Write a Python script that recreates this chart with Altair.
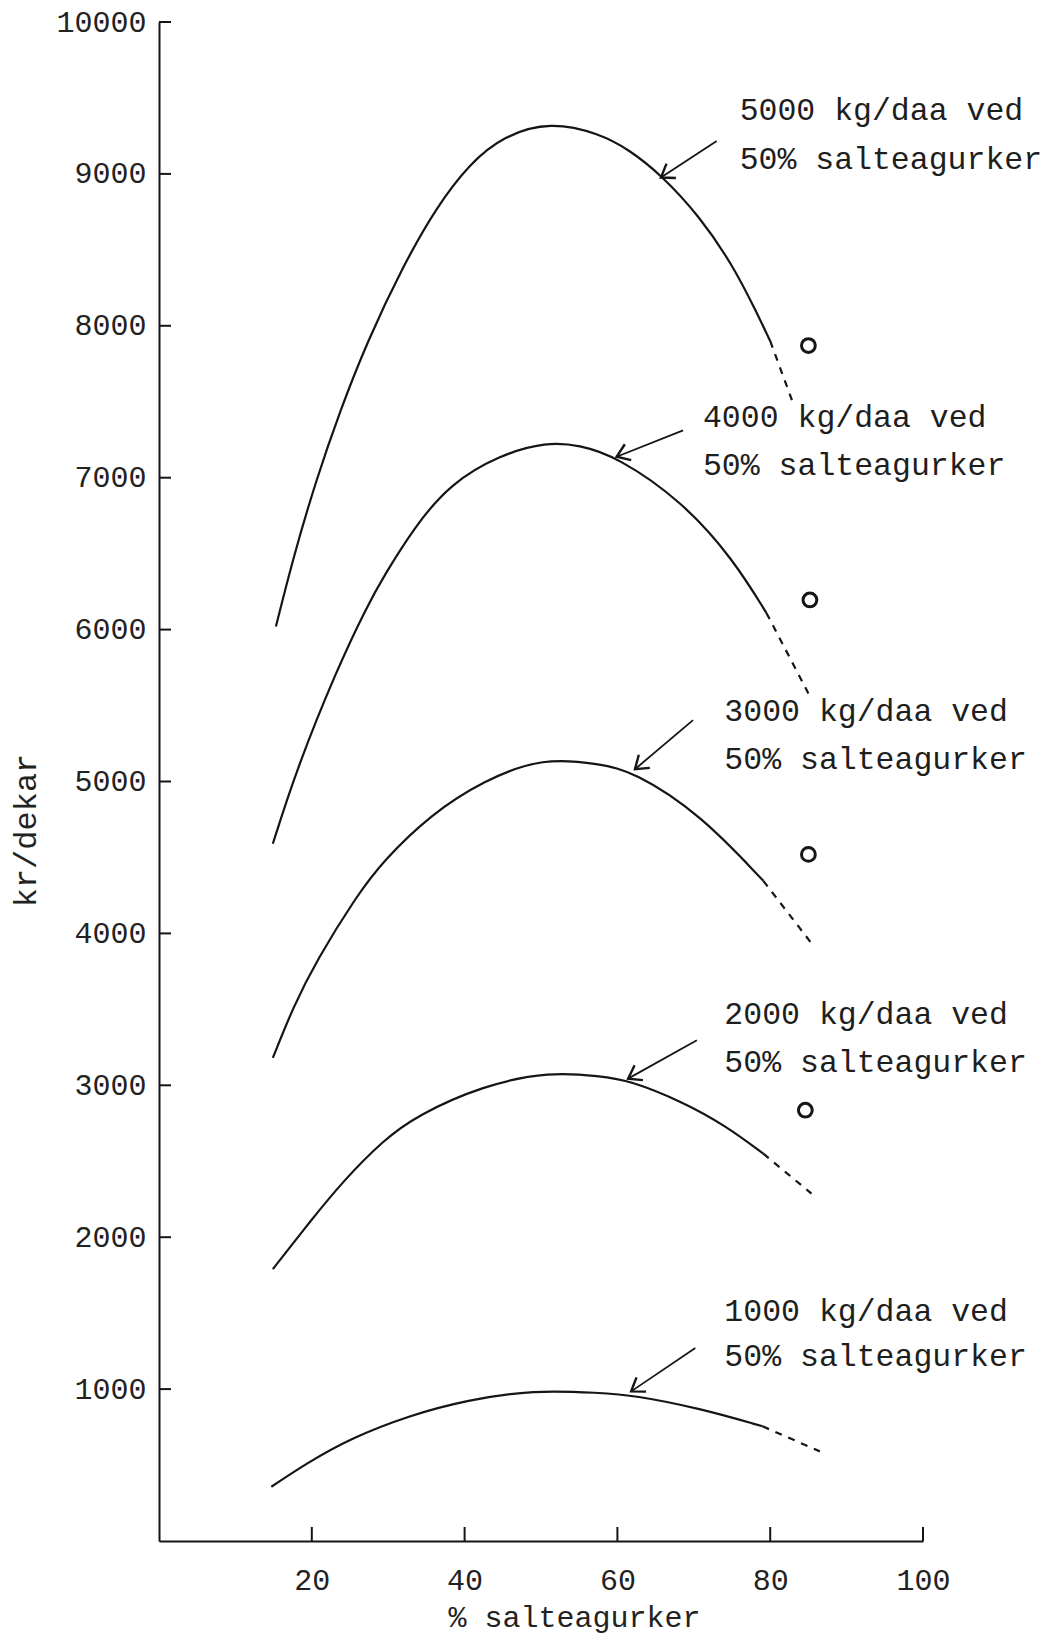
import math
import altair as alt
import pandas as pd

W, H = 764, 1519
XMAX, YMAX = 100, 10000
FONT = "Liberation Mono"
INK = "#151515"

# ---- curves: solid part and dashed extension (x = % salteagurker, y = kr/dekar)
series = ["5000", "4000", "3000", "2000", "1000"]

x_5000 = [15.3, 17.6, 20.6, 23.7, 27.2, 32.0, 36.3, 40.7, 45.1, 51.2, 57.7, 61.5, 65.6, 70.8, 75.2, 78.2, 80.0]
y_5000 = [6020, 6480, 6990, 7440, 7890, 8400, 8780, 9070, 9250, 9345, 9265, 9160, 9000, 8720, 8390, 8090, 7900]
xd_5000 = [80.0, 83.0]
yd_5000 = [7900, 7490]

x_4000 = [14.9, 18.0, 23.3, 27.2, 29.4, 33.5, 38.1, 44.6, 50.7, 55.0, 59.9, 68.6, 75.2, 79.5]
y_4000 = [4590, 5080, 5740, 6150, 6350, 6680, 6960, 7150, 7235, 7215, 7140, 6840, 6460, 6110]
xd_4000 = [79.5, 85.0]
yd_4000 = [6110, 5580]

x_3000 = [14.9, 17.6, 20.6, 25.9, 29.4, 35.5, 42.4, 50.3, 57.7, 62.1, 70.8, 79.1]
y_3000 = [3180, 3520, 3820, 4250, 4480, 4780, 5005, 5160, 5115, 5066, 4787, 4346]
xd_3000 = [79.1, 85.4]
yd_3000 = [4346, 3935]

x_2000 = [14.9, 19.8, 24.1, 29.4, 33.7, 42.4, 51.2, 57.7, 61.6, 68.6, 74.3, 79.1]
y_2000 = [1790, 2105, 2370, 2640, 2800, 3000, 3090, 3060, 3033, 2890, 2730, 2550]
xd_2000 = [79.1, 85.4]
yd_2000 = [2550, 2287]

x_1000 = [14.7, 19.3, 25.0, 32.9, 40.3, 49.0, 57.7, 62.1, 70.8, 79.0]
y_1000 = [357, 511, 675, 829, 928, 995, 975, 960, 873, 755]
xd_1000 = [79.0, 86.5]
yd_1000 = [755, 590]

# ---- circles (observed points)
circle_x = [85.0, 85.2, 85.0, 84.6]
circle_y = [7870, 6195, 4520, 2836]

# ---- labels
label_line1 = ["5000 kg/daa ved", "4000 kg/daa ved", "3000 kg/daa ved", "2000 kg/daa ved", "1000 kg/daa ved"]
label_line2 = ["50% salteagurker"] * 5
label_x = [76.0, 71.2, 74.0, 74.0, 74.0]
label_y1 = [9414, 7395, 5456, 3461, 1509]
label_y2 = [9092, 7079, 5140, 3145, 1212]

# ---- arrows (start near label -> tip on curve)
arrow_x0 = [73.0, 68.6, 69.9, 70.4, 70.2]
arrow_y0 = [9217, 7312, 5404, 3296, 1270]
arrow_x1 = [65.7, 59.9, 62.3, 61.4, 61.8]
arrow_y1 = [8976, 7138, 5081, 3044, 985]

# ---- axis ticks
x_ticks = [20, 40, 60, 80, 100]
y_ticks = [1000, 2000, 3000, 4000, 5000, 6000, 7000, 8000, 9000, 10000]

# ---------------- build tables
solid = {"5000": (x_5000, y_5000), "4000": (x_4000, y_4000), "3000": (x_3000, y_3000),
         "2000": (x_2000, y_2000), "1000": (x_1000, y_1000)}
dashed = {"5000": (xd_5000, yd_5000), "4000": (xd_4000, yd_4000), "3000": (xd_3000, yd_3000),
          "2000": (xd_2000, yd_2000), "1000": (xd_1000, yd_1000)}

rows = []
for s in series:
    for i, (xv, yv) in enumerate(zip(*solid[s])):
        rows.append({"series": s, "part": "solid", "x": xv, "y": yv, "o": i})
    for i, (xv, yv) in enumerate(zip(*dashed[s])):
        rows.append({"series": s, "part": "dashed", "x": xv, "y": yv, "o": i})
curves = pd.DataFrame(rows)

circles = pd.DataFrame({"x": circle_x, "y": circle_y})

labels = pd.DataFrame({
    "x": label_x + label_x,
    "y": label_y1 + label_y2,
    "t": label_line1 + label_line2,
})

angles = []
for x0, y0, x1, y1 in zip(arrow_x0, arrow_y0, arrow_x1, arrow_y1):
    dxp = (x1 - x0) * W / XMAX
    dyp = -(y1 - y0) * H / YMAX
    angles.append(math.degrees(math.atan2(dyp, dxp)) % 360)
arrows = pd.DataFrame({"x0": arrow_x0, "y0": arrow_y0, "x1": arrow_x1, "y1": arrow_y1, "ang": angles})

xt = pd.DataFrame({"xv": x_ticks})
yt = pd.DataFrame({"yv": y_ticks})

xscale = alt.Scale(domain=[0, XMAX], nice=False, zero=False)
yscale = alt.Scale(domain=[0, YMAX], nice=False, zero=False)

xaxis = alt.Axis(values=x_ticks, format="d", title="% salteagurker", grid=False, ticks=False,
                 labelFont=FONT, labelFontSize=30, labelColor="#222", labelPadding=24,
                 labelFlush=False, domainColor=INK, domainWidth=2,
                 titleFont=FONT, titleFontSize=30, titleFontWeight="normal", titleColor="#222",
                 titleX=415, titleY=76, titleBaseline="middle", titleAlign="center")
yaxis = alt.Axis(values=y_ticks, format="d", title="kr/dekar", grid=False, ticks=False,
                 labelFont=FONT, labelFontSize=30, labelColor="#222", labelPadding=13,
                 labelFlush=False, domainColor=INK, domainWidth=2,
                 titleFont=FONT, titleFontSize=32, titleFontWeight="normal", titleColor="#222",
                 titleAngle=270, titleX=-134, titleY=808, titleBaseline="middle", titleAlign="center")


def X(f):
    return alt.X(f, type="quantitative", scale=xscale, axis=xaxis)


def Y(f):
    return alt.Y(f, type="quantitative", scale=yscale, axis=yaxis)


solid_layer = alt.Chart(curves).transform_filter(alt.datum.part == "solid").mark_line(
    color=INK, strokeWidth=2.2, interpolate="basis"
).encode(x=X("x"), y=Y("y"), detail="series:N", order="o:Q")

dashed_layer = alt.Chart(curves).transform_filter(alt.datum.part == "dashed").mark_line(
    color=INK, strokeWidth=2.2, strokeDash=[7, 7]
).encode(x=X("x"), y=Y("y"), detail="series:N", order="o:Q")

circle_layer = alt.Chart(circles).mark_point(
    shape="circle", filled=False, color=INK, size=190, strokeWidth=3, opacity=1
).encode(x=X("x"), y=Y("y"))

text_layer = alt.Chart(labels).mark_text(
    align="left", baseline="middle", font=FONT, fontSize=31.5, color="#1e1e1e"
).encode(x=X("x"), y=Y("y"), text="t:N")

arrow_line = alt.Chart(arrows).mark_rule(color=INK, strokeWidth=1.8).encode(
    x=X("x0"), y=Y("y0"), x2="x1", y2="y1"
)
arrow_head = alt.Chart(arrows).mark_point(
    shape="M -1 -0.7 L 0 0 L -1 0.7", filled=False, color=INK, size=600, strokeWidth=2.4, opacity=1
).encode(x=X("x1"), y=Y("y1"), angle=alt.Angle("ang:Q", scale=None))

ytick_layer = alt.Chart(yt).mark_tick(
    color=INK, thickness=2, size=12, orient="horizontal", opacity=1
).encode(y=Y("yv"), x=alt.value(6))
xtick_layer = alt.Chart(xt).mark_tick(
    color=INK, thickness=2, size=14, orient="vertical", opacity=1
).encode(x=X("xv"), y=alt.value(H - 7))

chart = alt.layer(
    solid_layer, dashed_layer, circle_layer, text_layer, arrow_line, arrow_head,
    ytick_layer, xtick_layer
).properties(
    width=W, height=H,
    autosize=alt.AutoSizeParams(type="none"),
    padding={"left": 151, "top": 14, "right": 123, "bottom": 95},
    background="white",
).configure_view(stroke=None)

chart.save("out.html", embed_options={"renderer": "svg", "actions": False})
